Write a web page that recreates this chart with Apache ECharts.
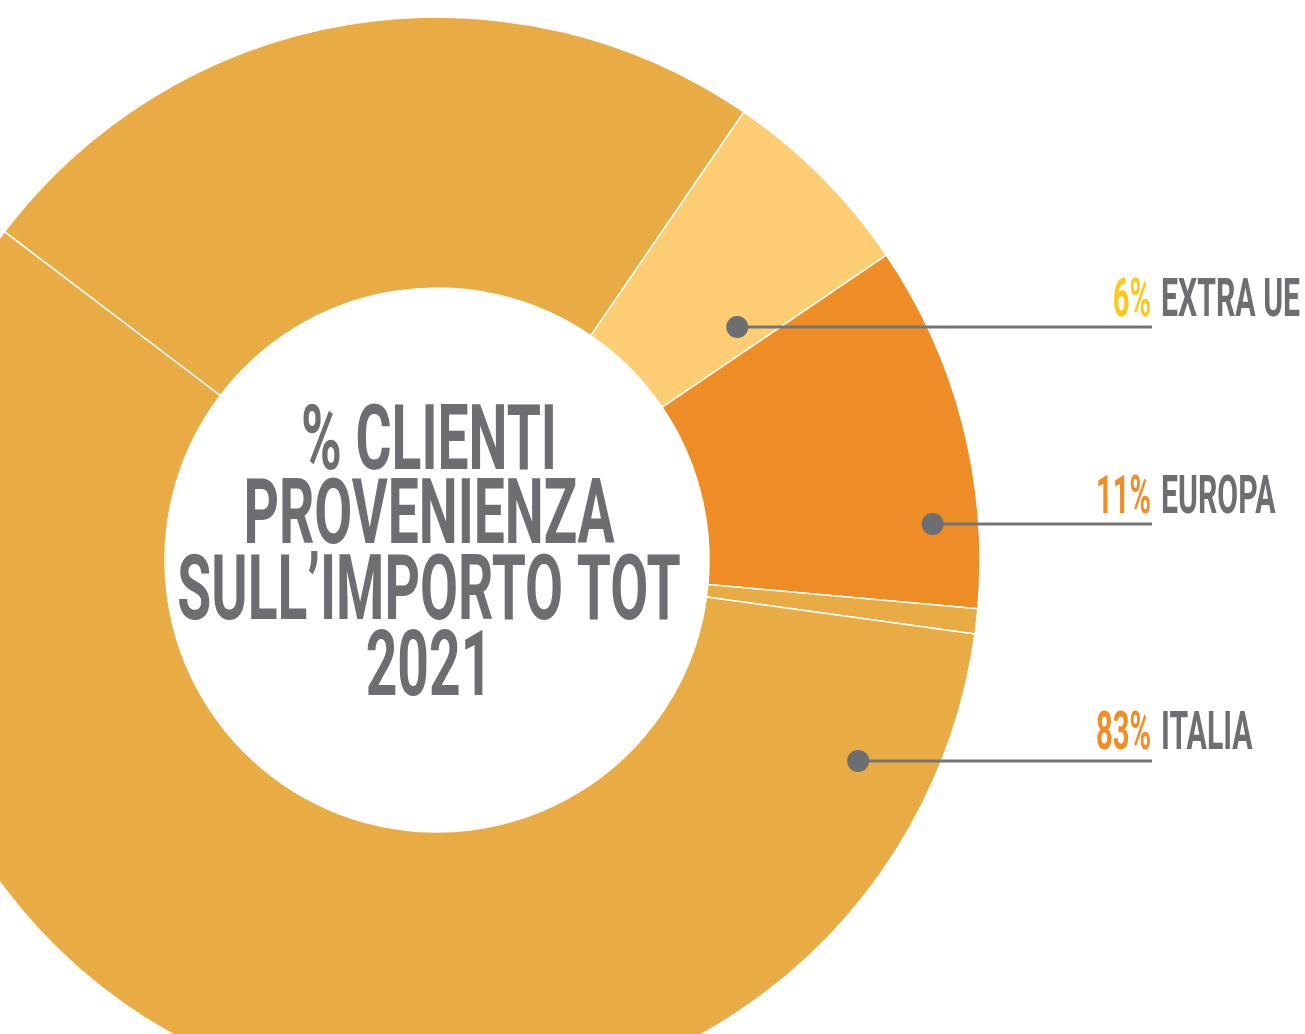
<!DOCTYPE html>
<html>
<head>
<meta charset="utf-8">
<script src="https://cdn.jsdelivr.net/npm/echarts@6/dist/echarts.min.js"></script>
<style>
  html, body { margin: 0; padding: 0; background: #ffffff; }
  #chart { width: 1305px; height: 1034px; }
</style>
</head>
<body>
<div id="chart"></div>
<script>
// Customer origin as a share of the 2021 total amount
const categories = ['EXTRA UE', 'EUROPA', 'ITALIA'];
const shares = [6, 11, 83];
// thin unlabelled slice that sits between EUROPA and ITALIA
const otherShare = 0.75;
// the ITALIA ring is drawn as two adjoining pieces (sum = 83)
const italiaFirstPart = 58.6;
const titleLines = ['% CLIENTI', 'PROVENIENZA', 'SULL\u2019IMPORTO TOT', '2021'];

// styling
const sliceColors = ['#FDCD73', '#EE8D25', '#E9AB44'];
const shareColors = ['#FFC81F', '#F08D25', '#F08D25'];
const grey = '#6D6E71';
const FONT = 'Roboto, "Liberation Sans", sans-serif';

// ring geometry
const CX = 437, CY = 560, R0 = 272, R1 = 543;
const START_ANGLE = 55.6;
// callout anchors, in polar terms around the ring centre: [angle deg, radius px]
const anchors = [[37.8, 380], [4.15, 497], [-25.5, 466.6]];
const LINE_END = 1152;
const TITLE_X = 429;
const TITLE_SCALE = 0.606;
const LABEL_SCALE = 0.54;

const pieData = [
  { name: categories[0], value: shares[0], itemStyle: { color: sliceColors[0] } },
  { name: categories[1], value: shares[1], itemStyle: { color: sliceColors[1] } },
  { name: 'ALTRO', value: otherShare, itemStyle: { color: sliceColors[2] } },
  { name: categories[2], value: italiaFirstPart, itemStyle: { color: sliceColors[2] } },
  { name: categories[2], value: shares[2] - italiaFirstPart, itemStyle: { color: sliceColors[2] } }
];

const graphics = [];

// centre title
const titleY = [446, 520.5, 596.5, 672.5];
titleLines.forEach((t, i) => {
  graphics.push({
    type: 'text', x: TITLE_X, y: titleY[i], scaleX: TITLE_SCALE, silent: true,
    style: {
      text: t, fill: grey, fontSize: 91, fontWeight: 'bold', fontFamily: FONT,
      align: 'center', verticalAlign: 'middle',
      textAlign: 'center', textVerticalAlign: 'middle'
    }
  });
});

// callouts: dot, leader line, share and name
categories.forEach((name, i) => {
  const a = anchors[i][0] * Math.PI / 180;
  const px = CX + anchors[i][1] * Math.cos(a);
  const py = CY - anchors[i][1] * Math.sin(a);
  graphics.push({
    type: 'line', silent: true, z: 10,
    shape: { x1: px, y1: py, x2: LINE_END, y2: py },
    style: { stroke: '#747579', lineWidth: 3 }
  });
  graphics.push({
    type: 'circle', silent: true, z: 11,
    shape: { cx: px, cy: py, r: 11 },
    style: { fill: grey }
  });
  graphics.push({
    type: 'text', x: LINE_END - 1, y: py - 25, scaleX: LABEL_SCALE, silent: true, z: 11,
    style: {
      text: shares[i] + '%', fill: shareColors[i], fontSize: 54, fontWeight: 'bold', fontFamily: FONT,
      align: 'right', verticalAlign: 'middle', textAlign: 'right', textVerticalAlign: 'middle'
    }
  });
  graphics.push({
    type: 'text', x: LINE_END + 9, y: py - 25, scaleX: LABEL_SCALE * 56 / 54, silent: true, z: 11,
    style: {
      text: name, fill: grey, fontSize: 54, fontWeight: 'bold', fontFamily: FONT,
      align: 'left', verticalAlign: 'middle', textAlign: 'left', textVerticalAlign: 'middle'
    }
  });
});

const chart = echarts.init(document.getElementById('chart'), null, { renderer: 'canvas' });
chart.setOption({
  backgroundColor: '#ffffff',
  animation: false,
  series: [{
    type: 'pie',
    center: [CX, CY],
    radius: [R0, R1],
    startAngle: START_ANGLE,
    clockwise: true,
    silent: true,
    label: { show: false },
    labelLine: { show: false },
    emphasis: { disabled: true },
    itemStyle: { borderColor: '#ffffff', borderWidth: 1.5 },
    data: pieData
  }],
  graphic: graphics
});
</script>
</body>
</html>
